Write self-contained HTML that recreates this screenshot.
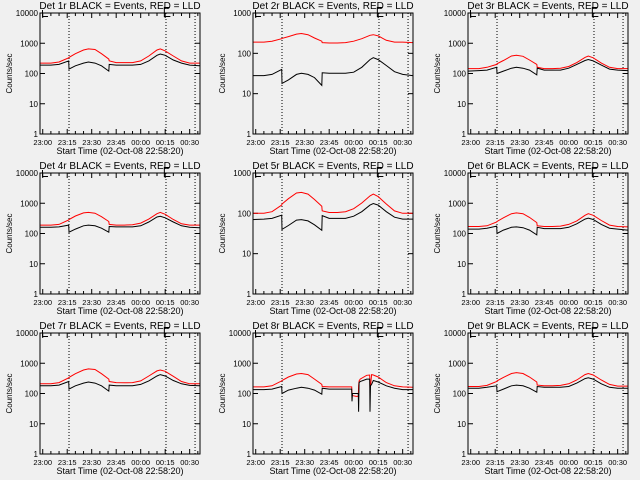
<!DOCTYPE html>
<html><head><meta charset="utf-8"><style>
html,body{margin:0;padding:0;background:#f0f0f0;}
svg{display:block;font-family:"Liberation Sans",sans-serif;}
</style></head><body>
<svg id="chart" width="640" height="480" viewBox="0 0 640 480" xmlns="http://www.w3.org/2000/svg">
<rect width="640" height="480" fill="#f0f0f0"/>
</svg>
<script>
const T = [-1.7,5,10,15.9,16.1,20,25,28,32,36,40.5,40.7,45,50,55,60,65,70,72,75,80,85,90,96];
const T8 = [-1.7,5,10,15.9,16.1,20,25,28,32,36,40.5,40.7,45,50,55,58.8,59,59.3,61.5,62.8,63,63.3,64,68,69.8,70,70.3,71,72,75,80,85,90,96];
const xTickLabels = ["23:00","23:15","23:30","23:45","00:00","00:15","00:30"];
const xTickMinutes = [0,15,30,45,60,75,90];
const markerMinutes = [16.1,75.5,93.3];
const detNames = ["1r","2r","3r","4r","5r","6r","7r","8r","9r"];
const decades = [4,3,4,4,3,4,4,4,4];
const black1 = [190,190,200,260,140,180,220,240,220,180,120,200,190,190,190,200,260,400,440,400,280,220,190,180];
const red1   = [220,220,240,330,340,450,600,650,620,450,300,260,230,230,230,260,380,600,650,560,380,260,220,220];
const black2 = [28,28,30,40,18,22,30,32,30,25,16,33,32,32,32,34,45,70,78,70,50,35,30,28];
const red2   = [190,190,200,230,235,260,300,310,290,240,200,185,180,180,185,200,230,280,290,270,210,190,190,185];
const black3 = [120,125,130,160,100,120,150,160,150,130,90,150,130,130,130,150,200,270,290,260,190,140,130,125];
const red3   = [145,145,160,200,210,270,380,400,370,280,200,160,145,145,150,170,230,340,380,330,220,160,145,145];
const black4 = [160,160,165,190,110,140,180,190,180,150,110,170,165,165,165,180,240,350,370,330,240,180,160,155];
const red4   = [190,190,200,280,290,380,480,500,470,360,250,200,190,190,195,220,300,450,500,430,290,210,190,190];
const black5 = [70,72,75,90,40,50,68,70,65,52,38,88,75,75,75,85,110,160,175,160,110,80,72,72];
const red5   = [100,100,110,160,170,230,320,330,300,220,150,115,105,105,110,130,180,270,300,260,170,115,100,100];
const black6 = [140,140,150,175,100,130,160,165,155,130,90,160,145,145,145,160,210,300,320,290,200,150,140,130];
const red6   = [170,170,180,240,250,330,450,480,450,340,230,180,170,170,175,200,260,400,450,400,270,190,170,165];
const black7 = [180,180,190,250,140,180,220,240,220,180,120,190,180,180,180,200,260,380,420,380,270,210,185,180];
const red7   = [210,210,230,330,340,450,600,650,620,450,300,250,230,225,230,260,380,560,600,540,370,250,210,210];
const black8 = [135,135,140,170,100,130,150,160,150,130,95,150,140,140,140,140,55,100,100,100,25,230,250,300,300,25,180,200,270,240,180,150,135,135];
const red8   = [165,165,180,260,270,350,440,460,420,300,200,170,165,165,165,165,90,85,80,80,180,260,300,400,410,150,170,420,410,350,230,180,165,160];
const black9 = [150,150,160,180,115,140,180,190,180,150,110,170,160,160,160,170,220,310,330,300,210,160,150,150];
const red9   = [170,170,185,250,260,340,460,490,460,350,240,190,180,180,185,210,280,420,460,410,280,200,175,175];

const blacks=[black1,black2,black3,black4,black5,black6,black7,black8,black9];
const reds=[red1,red2,red3,red4,red5,red6,red7,red8,red9];
const times=[T,T,T,T,T,T,T,T8,T];

const NS="http://www.w3.org/2000/svg";
const svg=document.getElementById('chart');
function mk(tag,attrs,parent){const e=document.createElementNS(NS,tag);for(const k in attrs)e.setAttribute(k,attrs[k]);(parent||svg).appendChild(e);return e;}
const colX=[0,213,428], rowY=[0,160,320];
const L=40,R=200,TOP=13,BOT=134;
function xScale(t){return L+(t+1.667)*(R-L)/98;}
function yScaleFor(nd){return v=>BOT-Math.log10(v)*(BOT-TOP)/nd;}

for(let i=0;i<9;i++){
  const ox=colX[i%3], oy=rowY[Math.floor(i/3)];
  const g=mk('g',{transform:`translate(${ox},${oy})`});
  
  
  const nd=decades[i]; const y=yScaleFor(nd);
  const tt=mk('text',{x:120,y:9,'font-size':10,'text-anchor':'middle',fill:'#000'},g);
  tt.textContent=`Det ${detNames[i]} BLACK = Events, RED = LLD`;
  
  
  for(let d=0;d<=nd;d++){
    const yy=y(Math.pow(10,d));
    mk('line',{x1:L,x2:L+5,y1:yy,y2:yy,stroke:'#000'},g);
    mk('line',{x1:R-5,x2:R,y1:yy,y2:yy,stroke:'#000'},g);
    const lb=mk('text',{x:L-2,y:yy+3,'font-size':8,'text-anchor':'end',fill:'#000'},g);
    lb.textContent=String(Math.pow(10,d));
    
    
  }
  for(let m=0;m<=95;m+=5){
    const xx=xScale(m), len=(m%15===0)?5:3;
    mk('line',{x1:xx,x2:xx,y1:BOT,y2:BOT-len,stroke:'#000'},g);
    mk('line',{x1:xx,x2:xx,y1:TOP,y2:TOP+len,stroke:'#000'},g);
  }
  xTickMinutes.forEach((m,k)=>{
    const lb=mk('text',{x:xScale(m),y:145,'font-size':7.5,'text-anchor':'middle',fill:'#000'},g);
    lb.textContent=xTickLabels[k];
    
    
  });
  const xt=mk('text',{x:120,y:154,'font-size':9,'text-anchor':'middle',fill:'#000'},g);
  xt.textContent='Start Time (02-Oct-08 22:58:20)';
  
  
  const yt=mk('text',{x:0,y:0,'font-size':8,'text-anchor':'middle',fill:'#000',transform:`translate(12,${(TOP+BOT)/2}) rotate(-90)`},g);
  yt.textContent='Counts/sec';
  
  
  markerMinutes.forEach(m=>{
    const ln=mk('line',{x1:xScale(m),x2:xScale(m),y1:TOP,y2:BOT,stroke:'#000','stroke-dasharray':'1,2'},g);
    
    
  });
  mk('path',{d:`M${L+2.5},10 V16.5 H48`,stroke:'#000',fill:'none'},g);
  const bx=xScale(74.5);
  mk('path',{d:`M${bx+5},7.5 H${bx} V16.5 H${bx+6}`,stroke:'#000',fill:'none'},g);
  const ts=times[i];
  const ptsR=ts.map((t,k)=>xScale(t).toFixed(1)+','+y(reds[i][k]).toFixed(1)).join(' ');
  const pr=mk('polyline',{points:ptsR,fill:'none',stroke:'#ff0000','stroke-width':1},g);
  
  
  const ptsB=ts.map((t,k)=>xScale(t).toFixed(1)+','+y(blacks[i][k]).toFixed(1)).join(' ');
  const pb=mk('polyline',{points:ptsB,fill:'none',stroke:'#000','stroke-width':1},g);
  
  
  const fr=mk('rect',{x:L,y:TOP,width:R-L,height:BOT-TOP,fill:'none',stroke:'#000'},g);
  
  
}
</script>
</body></html>
